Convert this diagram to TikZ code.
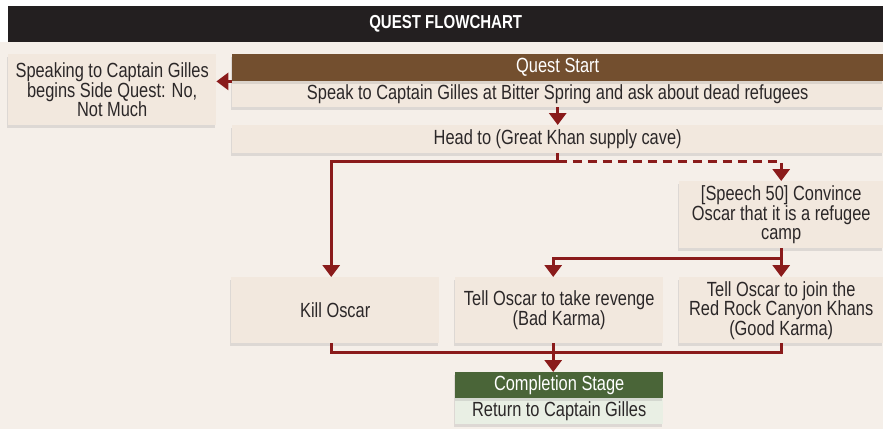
\documentclass[tikz,border=0pt]{standalone}
\usepackage{fontspec}
\setmainfont{Liberation Sans}[FakeStretch=0.8]
\usetikzlibrary{arrows.meta,shadows}

\definecolor{pagebg}{HTML}{F5EFE9}
\definecolor{boxfill}{HTML}{F2E8DE}
\definecolor{titlebar}{HTML}{231F20}
\definecolor{questbrown}{HTML}{734F2F}
\definecolor{donegreen}{HTML}{4A6538}
\definecolor{donefill}{HTML}{E9EFE4}
\definecolor{wirered}{HTML}{8A1B1B}
\definecolor{ink}{HTML}{2B2728}

\begin{document}
\begin{tikzpicture}[x=1pt, y=-1pt,
  box/.style={fill=boxfill, text=ink, align=center, inner sep=0pt, anchor=north west,
    font=\fontsize{20.5}{19.5}\selectfont,
    drop shadow={shadow xshift=-1pt, shadow yshift=-3pt, opacity=0.2}},
  headbar/.style={box, text=white},
  wire/.style={wirered, line width=3pt},
  link/.style={wire, -{Triangle[width=17pt,length=12pt]}}]

  % Page and title bar
  \useasboundingbox (0,0) rectangle (883,429);
  \fill[pagebg] (0,0) rectangle (883,429);
  \fill[white] (0,0) rectangle (883,42);
  \node[anchor=north west, fill=titlebar, text=white, minimum width=875pt, minimum height=36pt,
    font=\bfseries\fontsize{18.8}{18.8}\selectfont] (title) at (8,6) {QUEST FLOWCHART};

  % Quest start
  \node[box, minimum width=208pt, minimum height=71pt] (side) at (8,54)
    {Speaking to Captain Gilles\\begins Side Quest: No,\\Not Much};
  \node[box, minimum width=651pt, minimum height=26pt] (startbody) at (232,81)
    {Speak to Captain Gilles at Bitter Spring and ask about dead refugees};
  \node[headbar, fill=questbrown, minimum width=651pt, minimum height=27pt] (starthead) at (232,54)
    {Quest Start};

  % Middle steps
  \node[box, minimum width=651pt, minimum height=28pt] (head) at (232,125)
    {Head to (Great Khan supply cave)};
  \node[box, minimum width=204pt, minimum height=67pt] (speech) at (679,181)
    {[Speech 50] Convince\\Oscar that it is a refugee\\camp};

  % Choices
  \node[box, minimum width=208pt, minimum height=66pt] (kill) at (231,277) {Kill Oscar};
  \node[box, minimum width=208pt, minimum height=66pt] (revenge) at (455,277)
    {Tell Oscar to take revenge\\(Bad Karma)};
  \node[box, minimum width=204pt, minimum height=66pt] (join) at (679,277)
    {Tell Oscar to join the\\Red Rock Canyon Khans\\(Good Karma)};

  % Completion
  \node[box, fill=donefill, minimum width=208pt, minimum height=26pt] (donebody) at (455,398)
    {Return to Captain Gilles};
  \node[headbar, fill=donegreen, minimum width=208pt, minimum height=26pt] (donehead) at (455,372)
    {Completion Stage};

  % Connectors
  \draw[link] (starthead.south west) -- (side.east |- starthead.south west);
  \draw[link] (startbody.south) -- (head.north);
  \path (head.south) ++(0,8) coordinate (split);
  \draw[wire] (head.south) -- (split);
  \draw[link] (split) -| ([xshift=-4pt]kill.north);
  \draw[link, dash pattern=on 9pt off 6pt] (split) -| (speech.north);
  \path (speech.south) ++(0,10) coordinate (fork);
  \draw[link] (speech.south) -- (join.north);
  \draw[link] (fork) -| ([xshift=-6pt]revenge.north);
  \path (revenge.south) ++(0,9) coordinate (merge);
  \draw[wire] ([xshift=-4pt]kill.south) |- (merge -| join.south) -- (join.south);
  \draw[link] ([xshift=-6pt]revenge.south) -- ([xshift=-6pt]donehead.north);
\end{tikzpicture}
\end{document}
